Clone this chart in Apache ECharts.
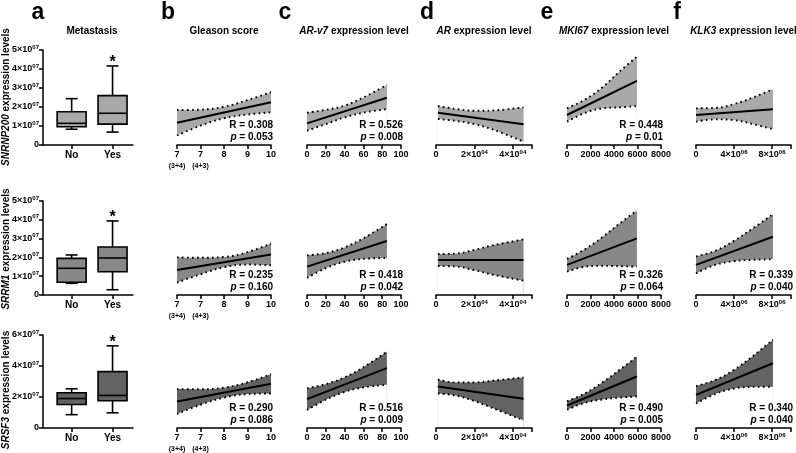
<!DOCTYPE html>
<html><head><meta charset="utf-8">
<script src="https://cdn.jsdelivr.net/npm/echarts@6/dist/echarts.min.js"></script>
<style>html,body{margin:0;padding:0;background:#fff}#c{width:796px;height:453px}</style>
</head><body><div id="c"></div>
<script>
// ---------------- DATA ----------------
const genes = ['SNRNP200', 'SRRM1', 'SRSF3'];
const panelLetters = ['a', 'b', 'c', 'd', 'e', 'f'];
const panelTitles = ['Metastasis', 'Gleason score', '{i|AR-v7} expression level', '{i|AR} expression level', '{i|MKI67} expression level', '{i|KLK3} expression level'];
const boxCategories = ['No', 'Yes'];
// box statistics, units of 10^7: [min, Q1, median, Q3, max]
const boxNo  = [[0.83, 0.96, 1.14, 1.75, 2.44], [0.62, 0.68, 1.42, 1.95, 2.13], [0.86, 1.52, 1.90, 2.27, 2.53]];
const boxYes = [[0.68, 1.10, 1.67, 2.60, 4.16], [0.28, 1.24, 1.97, 2.55, 3.94], [0.98, 1.76, 2.10, 3.64, 5.30]];
const yesSignificant = [true, true, true];
const yMaxRow = [5, 5, 6];
const yStepRow = [1, 1, 2];

// x sample positions of the confidence bands (per column b..f)
const gleasonX = [6, 7, 8, 9, 10];
const arv7X = [0, 20, 40, 60, 85];
const arX = [1000, 10000, 20000, 30000, 45600];
const mki67X = [0, 1500, 3000, 4500, 5950];
const klk3X = [0, 2e6, 4e6, 6e6, 8.1e6];
const gleasonTickLabels = {6: '7|(3+4)', 7: '7|(4+3)', 8: '8', 9: '9', 10: '10'};

// rows: SNRNP200, SRRM1, SRSF3 ; columns: Gleason, AR-v7, AR, MKI67, KLK3 (units 10^7)
const bandUpper = [
  [[1.84,1.86,2.01,2.36,2.78],[1.70,1.85,2.07,2.50,3.16],[2.05,1.90,1.80,1.82,1.98],[1.93,2.38,3.03,3.88,4.65],[1.93,1.95,2.15,2.50,2.93]],
  [[2.00,1.98,2.02,2.28,2.74],[2.11,2.23,2.53,3.02,3.77],[2.18,2.20,2.40,2.65,2.96],[1.92,2.42,3.07,3.81,4.50],[2.05,2.34,2.88,3.55,4.30]],
  [[2.51,2.50,2.60,2.95,3.47],[2.56,2.83,3.27,3.92,4.93],[3.13,2.94,2.94,3.06,3.26],[1.72,2.22,2.94,3.76,4.60],[2.70,3.09,3.75,4.65,5.70]]
];
const bandLower = [
  [[0.50,1.02,1.41,1.60,1.72],[0.75,1.10,1.45,1.70,1.89],[1.37,1.27,1.10,0.80,0.17],[1.23,1.68,1.93,1.98,2.05],[1.23,1.35,1.31,1.10,0.83]],
  [[0.66,1.10,1.48,1.62,1.58],[0.91,1.43,1.77,1.92,1.97],[1.54,1.52,1.32,1.07,0.76],[1.24,1.50,1.55,1.53,1.51],[1.15,1.60,1.80,1.87,1.90]],
  [[0.91,1.50,1.96,2.19,2.23],[1.16,1.83,2.33,2.62,2.79],[2.23,2.10,1.74,1.26,0.50],[1.18,1.62,1.84,1.96,2.04],[1.58,2.19,2.55,2.65,2.66]]
];
// regression line endpoints [at first x, at last x]
const fitEnds = [
  [[1.17,2.25],[1.14,2.49],[1.70,1.09],[1.58,3.37],[1.58,1.88]],
  [[1.33,2.16],[1.51,2.87],[1.86,1.86],[1.60,3.01],[1.60,3.10]],
  [[1.71,2.85],[1.86,3.86],[2.68,1.88],[1.45,3.32],[2.14,4.18]]
];
const rValues = [['0.308','0.526',null,'0.448',null],['0.235','0.418',null,'0.326','0.339'],['0.290','0.516',null,'0.490','0.340']];
const pValues = [['0.053','0.008',null,'0.01',null],['0.160','0.042',null,'0.064','0.040'],['0.086','0.009',null,'0.005','0.040']];

// ---------------- LAYOUT / STYLE ----------------
const FONT = '"Liberation Sans", Arial, Helvetica, sans-serif';
const rowLayout = [{top: 50, height: 95}, {top: 201, height: 94}, {top: 335, height: 93}];
const colLayout = [{left: 43, width: 90}, {left: 177, width: 94}, {left: 307, width: 94}, {left: 436, width: 96}, {left: 567, width: 94}, {left: 696, width: 95}];
const fills = ['#a9a9a9', '#888888', '#636363'];
const xCols = [gleasonX, arv7X, arX, mki67X, klk3X];

const labelRich = {
  m: {fontSize: 9, fontWeight: 'bold', fontFamily: FONT, color: '#000', lineHeight: 12},
  s: {fontSize: 6, fontWeight: 'bold', fontFamily: FONT, color: '#000', verticalAlign: 'top', lineHeight: 7},
  t: {fontSize: 7, fontWeight: 'bold', fontFamily: FONT, color: '#000', lineHeight: 10}
};
function sup(mant, exp) { return '{m|' + mant + '×10}{s|' + exp + '}'; }

const axisLineStyle = {show: true, lineStyle: {color: '#000', width: 1.5}};
const axisTickStyle = {show: true, length: 4, lineStyle: {color: '#000', width: 1.5}};
function baseLabel(extra) {
  return Object.assign({color: '#000', fontSize: 9, fontWeight: 'bold', fontFamily: FONT, margin: 4, rich: labelRich}, extra);
}

const grids = [], xAxes = [], yAxes = [], series = [], graphics = [];

const xSpecs = [
  {min: 0, max: 2.2, axisTick: Object.assign({}, axisTickStyle, {customValues: [0.7, 1.7]}),
   axisLabel: baseLabel({customValues: [0.7, 1.7], fontSize: 10, margin: 5, formatter: v => (v < 1 ? boxCategories[0] : boxCategories[1])})},
  {min: 6, max: 10, interval: 1, axisLabel: baseLabel({formatter: v => { const s = gleasonTickLabels[v].split('|'); return s.length > 1 ? '{m|' + s[0] + '}\n{t|' + s[1] + '}' : '{m|' + s[0] + '}'; }})},
  {min: 0, max: 100, interval: 20, axisLabel: baseLabel({formatter: v => '{m|' + v + '}'})},
  {min: 0, max: 50000, interval: 20000, axisLabel: baseLabel({formatter: v => v === 0 ? '{m|0}' : (v % 20000 ? '' : sup(v / 1e4, '04'))})},
  {min: 0, max: 8000, interval: 2000, axisLabel: baseLabel({formatter: v => '{m|' + v + '}'})},
  {min: 0, max: 1e7, interval: 4e6, axisLabel: baseLabel({formatter: v => v === 0 ? '{m|0}' : (v % 4e6 ? '' : sup(v / 1e6, '06'))})}
];

for (let r = 0; r < 3; r++) {
  for (let c = 0; c < 6; c++) {
    const gi = r * 6 + c;
    grids.push({left: colLayout[c].left, width: colLayout[c].width, top: rowLayout[r].top, height: rowLayout[r].height});
    const xs = xSpecs[c];
    xAxes.push(Object.assign({type: 'value', gridIndex: gi, z: 20, axisLine: axisLineStyle, axisTick: axisTickStyle, splitLine: {show: false}}, xs));
    yAxes.push({
      type: 'value', gridIndex: gi, min: 0, max: yMaxRow[r], interval: yStepRow[r], show: c === 0, z: 20,
      axisLine: axisLineStyle, axisTick: axisTickStyle, splitLine: {show: false},
      axisLabel: baseLabel({formatter: v => v === 0 ? '{m|0}' : sup(v, '07')})
    });
    if (c === 0) {
      const fill = fills[r];
      series.push({
        type: 'custom', xAxisIndex: gi, yAxisIndex: gi, z: 3,
        data: [[0.7].concat(boxNo[r], [0]), [1.7].concat(boxYes[r], [yesSignificant[r] ? 1 : 0])],
        renderItem: function (params, api) {
          const x = api.value(0);
          const p = [1, 2, 3, 4, 5].map(i => api.coord([x, api.value(i)]));
          const cx = p[0][0], hw = 14.5, cw = 6;
          const st = {stroke: '#000', lineWidth: 1.6, fill: null};
          const ch = [
            {type: 'line', shape: {x1: cx, y1: p[4][1], x2: cx, y2: p[3][1]}, style: st},
            {type: 'line', shape: {x1: cx, y1: p[1][1], x2: cx, y2: p[0][1]}, style: st},
            {type: 'line', shape: {x1: cx - cw, y1: p[4][1], x2: cx + cw, y2: p[4][1]}, style: st},
            {type: 'line', shape: {x1: cx - cw, y1: p[0][1], x2: cx + cw, y2: p[0][1]}, style: st},
            {type: 'rect', shape: {x: cx - hw, y: p[3][1], width: 2 * hw, height: p[1][1] - p[3][1]}, style: {fill: fill, stroke: '#000', lineWidth: 1.6}},
            {type: 'line', shape: {x1: cx - hw, y1: p[2][1], x2: cx + hw, y2: p[2][1]}, style: st}
          ];
          if (api.value(6)) ch.push({type: 'text', x: cx, y: p[4][1] - 3, style: {text: '*', fontSize: 16, fontWeight: 'bold', fontFamily: FONT, align: 'center', verticalAlign: 'middle', fill: '#000'}});
          return {type: 'group', children: ch};
        }
      });
    } else {
      const k = c - 1;
      const X = xCols[k], up = bandUpper[r][k], lo = bandLower[r][k];
      const common = {type: 'line', xAxisIndex: gi, yAxisIndex: gi, symbol: 'none', smooth: 0.4, silent: true, animation: false};
      // grey fill under the upper bound, then white fill under the lower bound => band between them
      series.push(Object.assign({}, common, {data: X.map((x, i) => [x, up[i]]), lineStyle: {opacity: 0}, areaStyle: {color: fills[r], opacity: 1, origin: 'start'}, z: 1}));
      series.push(Object.assign({}, common, {data: X.map((x, i) => [x, lo[i]]), lineStyle: {opacity: 0}, areaStyle: {color: '#ffffff', opacity: 1, origin: 'start'}, z: 1}));
      const dot = {color: '#000', width: 1.9, type: [1.7, 3.3]};
      series.push(Object.assign({}, common, {data: X.map((x, i) => [x, up[i]]), lineStyle: dot, z: 3}));
      series.push(Object.assign({}, common, {data: X.map((x, i) => [x, lo[i]]), lineStyle: dot, z: 3}));
      series.push(Object.assign({}, common, {smooth: false, data: [[X[0], fitEnds[r][k][0]], [X[X.length - 1], fitEnds[r][k][1]]], lineStyle: {color: '#000', width: 2}, z: 4}));
      if (rValues[r][k]) {
        const axisY = rowLayout[r].top + rowLayout[r].height;
        const rx = colLayout[c].left + colLayout[c].width + 2;
        graphics.push({type: 'text', z: 100, x: rx, y: axisY - 20, style: {text: 'R = ' + rValues[r][k], fontSize: 10, fontWeight: 'bold', fontFamily: FONT, align: 'right', verticalAlign: 'middle', fill: '#000'}});
        graphics.push({type: 'text', z: 100, x: rx, y: axisY - 8, style: {text: '{i|p} = ' + pValues[r][k], fontSize: 10, fontWeight: 'bold', fontFamily: FONT, align: 'right', verticalAlign: 'middle', fill: '#000',
          rich: {i: {fontSize: 10, fontWeight: 'bold', fontStyle: 'italic', fontFamily: FONT, fill: '#000'}}}});
      }
    }
  }
}

// panel letters and titles
const letterX = [38, 168, 285, 427, 547, 677];
panelLetters.forEach((l, c) => {
  graphics.push({type: 'text', z: 100, x: letterX[c], y: 13, style: {text: l, fontSize: 23, fontWeight: 'bold', fontFamily: FONT, align: 'center', verticalAlign: 'middle', fill: '#000'}});
  const cx = colLayout[c].left + colLayout[c].width / 2 + (c === 0 ? 4 : 0);
  graphics.push({type: 'text', z: 100, x: cx, y: 31, style: {text: panelTitles[c], fontSize: 10, fontWeight: 'bold', fontFamily: FONT, align: 'center', verticalAlign: 'middle', fill: '#000',
    rich: {i: {fontSize: 10, fontWeight: 'bold', fontStyle: 'italic', fontFamily: FONT, fill: '#000'}}}});
});
// y axis titles
const yTitleCenter = [97, 249, 390];
genes.forEach((g, r) => {
  graphics.push({type: 'text', z: 100, x: 6, y: yTitleCenter[r], rotation: Math.PI / 2,
    style: {text: '{i|' + g + '} expression levels', fontSize: 10, fontWeight: 'bold', fontFamily: FONT, align: 'center', verticalAlign: 'middle', fill: '#000',
      rich: {i: {fontSize: 10, fontWeight: 'bold', fontStyle: 'italic', fontFamily: FONT, fill: '#000'}}}});
});

const chart = echarts.init(document.getElementById('c'));
chart.setOption({
  animation: false,
  backgroundColor: '#fff',
  grid: grids, xAxis: xAxes, yAxis: yAxes, series: series, graphic: graphics
});
</script></body></html>
